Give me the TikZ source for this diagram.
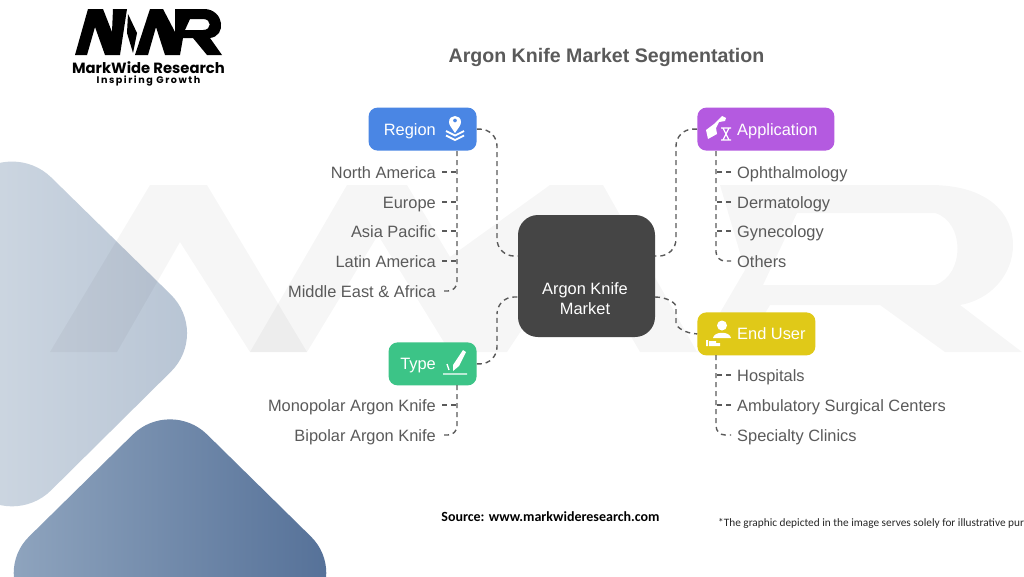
\documentclass[tikz,border=0pt]{standalone}
\usepackage{fontspec}
\usetikzlibrary{positioning}
\setmainfont{Liberation Sans}
\newfontfamily\logofont{Poppins}
\newfontfamily\notefont{Carlito}
\definecolor{hubgray}{HTML}{454545}
\definecolor{regionblue}{HTML}{4A86E4}
\definecolor{appviolet}{HTML}{B45AE0}
\definecolor{typegreen}{HTML}{3CC487}
\definecolor{useryellow}{HTML}{E0C918}
\definecolor{leafgray}{HTML}{5A5A5A}
\tikzset{
    %Define style for the coloured boxes
    segbox/.style={
           rectangle,
           rounded corners=9pt,
           minimum height=43pt,
           inner sep=0pt},
    %Define style for the text inside them
    segtext/.style={
           text=white,
           font=\fontsize{16.4}{18}\selectfont,
           inner sep=0pt,
           text height=11.8pt,
           text depth=0pt},
    % Define style for list entries
    leafleft/.style={
           anchor=east,
           text=leafgray,
           font=\fontsize{16.4}{18}\selectfont,
           inner sep=0pt,
           inner xsep=6pt,
           text height=13.5pt,
           text depth=0pt},
    leafright/.style={
           leafleft,
           anchor=west},
    % Define dashed connector
    link/.style={
           draw=leafgray,
           line width=1.4pt,
           dash pattern=on 5pt off 4pt,
           rounded corners=9pt},
    hublink/.style={
           link,
           rounded corners=17pt},
    ghost/.style={
           black,
           opacity=.035}
}

\begin{document}
\begin{tikzpicture}[x=1pt,y=-1pt]
         \clip (0,0) rectangle (1024,576);
         \fill[white] (0,0) rectangle (1024,576);
         %backdrop
         \shade[shading=axis,left color={rgb,255:red,222;green,229;blue,236},right color={rgb,255:red,182;green,195;blue,211},
                rounded corners=55pt]
           (210,333) -- (12,139) -- (-186,333) -- (12,529) -- cycle;
         \shade[shading=axis,left color={rgb,255:red,146;green,167;blue,192},right color={rgb,255:red,82;green,110;blue,150},
                rounded corners=52pt]
           (348,573) -- (170,398) -- (-8,573) -- (170,748) -- cycle;
         %watermark
         \fill[ghost] (50,352) -- (150,185) -- (207,185) -- (307,352) -- (250,352) -- (180,242) -- (117,352) -- cycle;
         \fill[ghost] (307,352) -- (250,352) -- (347,185) -- (407,185) -- (450,257) -- (550,185) -- (603,185) -- (697,352) -- (640,352)
              -- (578,245) -- (507,352) -- (450,352) -- (378,235) -- cycle;
         \fill[ghost,even odd rule] (697,352) -- (745,270) -- (720,185) -- (930,185) .. controls (990,185) and (1013,215) .. (1013,245)
              .. controls (1013,275) and (990,300) .. (960,305) -- (1022,352) -- (945,352) -- (880,305) -- (770,305) -- (742,352) -- cycle
              (763,285) -- (935,285) .. controls (965,275) and (965,222) .. (935,213) -- (797,213) -- cycle;
         %logo
         \fill[black] (75,55) -- (88,9) -- (103,9) -- (112,32) -- (113,9) -- (127,9) -- (120,55) -- (105,55) -- (95,27) -- (87,55) -- cycle;
         \fill[black] (128,14) -- (137,33) -- (133,53) -- (127,33) -- cycle;
         \fill[black,even odd rule] (135,55) -- (150,9) -- (163,9) -- (175,32) -- (175,9) -- (205,9) .. controls (224,10) and (227,36) .. (210,38)
              -- (222,55) -- (207,55) -- (193,38) -- (183,38) -- (180,55) -- (165,55) -- (156,27) -- (148,55) -- cycle
              (190,19) -- (203,19) .. controls (212,19) and (212,30) .. (203,30) -- (185,30) -- cycle;
         \node[inner sep=0pt,font=\logofont\bfseries\fontsize{14.8}{16}\selectfont] (logoname) at (148.5,67.5) {MarkWide Research};
         \node[inner sep=0pt,font=\logofont\bfseries\fontsize{9.6}{11}\selectfont] (logotag) at (148.5,80.5) {\addfontfeatures{LetterSpace=16}Inspiring Growth};
         %title
         \node[inner sep=0pt,text=leafgray,font=\bfseries\fontsize{19.6}{22}\selectfont] (title) at (606.5,57) {Argon Knife Market Segmentation};
         %nodes
         \node[fill=hubgray,rounded corners=20pt,minimum width=137pt,minimum height=122pt] (hub) at (586.5,276) {};
         \node[text=white,align=center,font=\fontsize{16.4}{20}\selectfont,inner sep=0pt] (hubtext) at (585,299) {Argon Knife\\Market};
         \node[segbox,fill=regionblue,minimum width=108pt,above left=64pt and 41pt of hub] (region) {};
         \node[segbox,fill=appviolet,minimum width=137pt,above right=64pt and 42pt of hub] (application) {};
         \node[segbox,fill=typegreen,minimum width=88pt,below left=5pt and 41pt of hub] (type) {};
         \node[segbox,fill=useryellow,minimum width=118pt,below right=-25pt and 42pt of hub] (enduser) {};
         \node[segtext,anchor=east] (regiontext) at (436,129.5) {Region};
         \node[segtext,anchor=west] (applicationtext) at (737,129.5) {Application};
         \node[segtext,anchor=east] (typetext) at (436,363.5) {Type};
         \node[segtext,anchor=west] (endusertext) at (737,333.5) {End User};
         %ends on the hub and bends
         \coordinate (hubnw) at (518,256);
         \coordinate (hubsw) at (518,297);
         \coordinate (hubne) at (655,256);
         \coordinate (hubse) at (655,297);
         \coordinate (regionbend) at (497,190);
         \coordinate (typebend) at (497,330);
         \coordinate (applicationbend) at (676,190);
         \coordinate (enduserbend) at (676,315);
         \draw[hublink] (region.east) -| (regionbend) |- (hubnw);
         \draw[hublink] (type.east) -| (typebend) |- (hubsw);
         \draw[hublink] (application.west) -| (applicationbend) |- (hubne);
         \draw[link] (hubse) .. controls (668,297) and (676,304) .. (enduserbend) .. controls (676,326) and (684,333.5) .. (enduser.west);
         %lists
         \coordinate (regionstem) at (457,151);
         \coordinate (typestem) at (457,385);
         \coordinate (applicationstem) at (716,151);
         \coordinate (enduserstem) at (716,355);
         \foreach \leaf/\leaftext/\y in {na/North America/172,eu/Europe/202,ap/Asia Pacific/231,la/Latin America/261,mea/Middle East \& Africa/291}{
           \node[leafleft] (\leaf) at (442,\y) {\leaftext};
         }
         \foreach \leaf in {na,eu,ap,la}{
           \draw[link] (\leaf.east) -- (\leaf.east -| regionstem);
         }
         \draw[link] (regionstem) |- (mea.east);
         \foreach \leaf/\leaftext/\y in {mono/Monopolar Argon Knife/405,bi/Bipolar Argon Knife/435}{
           \node[leafleft] (\leaf) at (442,\y) {\leaftext};
         }
         \draw[link] (mono.east) -- (mono.east -| typestem);
         \draw[link] (typestem) |- (bi.east);
         \foreach \leaf/\leaftext/\y in {oph/Ophthalmology/172,der/Dermatology/202,gyn/Gynecology/231,oth/Others/261}{
           \node[leafright] (\leaf) at (731,\y) {\leaftext};
         }
         \foreach \leaf in {oph,der,gyn}{
           \draw[link] (\leaf.west) -- (\leaf.west -| applicationstem);
         }
         \draw[link] (applicationstem) |- (oth.west);
         \foreach \leaf/\leaftext/\y in {hos/Hospitals/375,amb/Ambulatory Surgical Centers/405,spe/Specialty Clinics/435}{
           \node[leafright] (\leaf) at (731,\y) {\leaftext};
         }
         \foreach \leaf in {hos,amb}{
           \draw[link] (\leaf.west) -- (\leaf.west -| enduserstem);
         }
         \draw[link] (enduserstem) |- (spe.west);
         %icons
         \fill[white,even odd rule] (455,133) .. controls (451,127) and (449,125) .. (449,122) .. controls (449,114) and (461,114) .. (461,122) .. controls (461,125) and (459,127) .. (455,133) -- cycle (455,120.5) circle (2pt);
         \draw[white,line width=1.8pt] (446,131) -- (455,135.5) -- (464,131) (446,135.5) -- (455,140) -- (464,135.5);
         \fill[white] (706,130) -- (714,124) -- (722,116) -- (726,118) -- (725,121) -- (719,122) -- (716,128) -- (717,134) -- (708,139) -- cycle;
         \draw[white,line width=1.2pt] (721,128) -- (731,128) (721,140) -- (731,140) (723,128) -- (729,140) (729,128) -- (723,140);
         \fill[white] (463,350) -- (466,352) -- (459,366) -- (453,371) -- (453,365) -- cycle;
         \draw[white,line width=1.4pt] (443,374) -- (467,374) (447,364) -- (449,370);
         \fill[white] (722,325.5) circle (5pt);
         \fill[white] (713,338) .. controls (714,331) and (730,331) .. (731,338) -- cycle;
         \fill[white] (706,340) rectangle (708,346) (709,341) rectangle (716,346) (716,343) rectangle (720,346);
         %notes
         \node[inner sep=0pt,font=\notefont\bfseries\fontsize{14}{16}\selectfont] (source) at (550.5,517) {Source: www.markwideresearch.com};
         \node[anchor=west,inner sep=0pt,text=black!85,font=\notefont\fontsize{11.3}{13}\selectfont] (note) at (718,523) {*The graphic depicted in the image serves solely for illustrative pur};
        \end{tikzpicture}
\end{document}
